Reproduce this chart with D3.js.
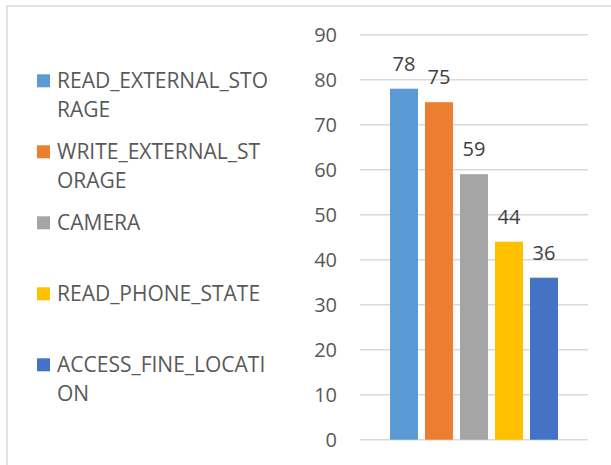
<!DOCTYPE html>
<html><head><meta charset="utf-8">
<script src="https://cdn.jsdelivr.net/npm/d3@7"></script>
<style>
html,body{margin:0;padding:0;background:#fff;}
svg{display:block;}
text{font-family:"Open Sans","Noto Sans",sans-serif;}
</style></head>
<body>
<svg id="chart" width="611" height="465"></svg>
<script>
const categories = ["READ_EXTERNAL_STORAGE","WRITE_EXTERNAL_STORAGE","CAMERA","READ_PHONE_STATE","ACCESS_FINE_LOCATION"];
const values = [78, 75, 59, 44, 36];
const colors = ["#5B9BD5","#ED7D31","#A5A5A5","#FFC000","#4472C4"];
const yTicks = [0,10,20,30,40,50,60,70,80,90];

const FONT = "'Open Sans','Noto Sans',sans-serif";
const svg = d3.select("#chart");

// outer border (only top and left visible)
svg.append("rect").attr("x",7).attr("y",6).attr("width",700).attr("height",600)
  .attr("fill","none").attr("stroke","#d9d9d9").attr("stroke-width",1.5);

const y = d3.scaleLinear().domain([0,90]).range([439.7,34.7]);
const x = d3.scaleBand().domain(categories).range([390,558]).paddingInner(0.2).paddingOuter(0);
const plotL = 360, plotR = 588;

// gridlines
svg.append("g").selectAll("line").data(yTicks).join("line")
  .attr("x1",plotL).attr("x2",plotR)
  .attr("y1",d=>y(d)).attr("y2",d=>y(d))
  .attr("stroke","#d9d9d9").attr("stroke-width",1.5);

// y axis labels
const yAxis = d3.axisLeft(y).tickValues(yTicks).tickSize(0).tickPadding(0);
const ag = svg.append("g").attr("transform","translate(337,0)").call(yAxis);
ag.select(".domain").remove();
ag.selectAll("text").attr("fill","#595959").style("font-size","20px")
  .style("font-family",FONT).attr("dy","0.36em");

// bars
svg.append("g").selectAll("rect").data(values).join("rect")
  .attr("x",(d,i)=>x(categories[i])).attr("width",x.bandwidth())
  .attr("y",d=>y(d)).attr("height",d=>y(0)-y(d))
  .attr("fill",(d,i)=>colors[i]);

// value labels
svg.append("g").selectAll("text").data(values).join("text")
  .attr("x",(d,i)=>x(categories[i])+x.bandwidth()/2)
  .attr("y",d=>y(d)-18)
  .attr("text-anchor","middle").attr("fill","#404040")
  .style("font-size","20px").text(d=>d);

// legend
const leg = svg.append("g");
const maxW = 217;
const LFS = "21px";
categories.forEach((c,i)=>{
  const by = 88.3 + i*71;
  leg.append("rect").attr("x",37).attr("y",by-14).attr("width",13).attr("height",13).attr("fill",colors[i]);
  const t = leg.append("text").attr("x",57).attr("y",by).attr("fill","#595959").style("font-size",LFS);
  // character-level wrap
  let lines = [], cur = "";
  const probe = svg.append("text").style("font-size",LFS);
  for (const ch of c) {
    probe.text(cur+ch);
    if (probe.node().getComputedTextLength() > maxW && cur.length) { lines.push(cur); cur = ch; }
    else cur += ch;
  }
  lines.push(cur); probe.remove();
  lines.forEach((l,j)=>t.append("tspan").attr("x",57).attr("dy", j===0?0:28.5).text(l));
});
</script>
</body></html>
